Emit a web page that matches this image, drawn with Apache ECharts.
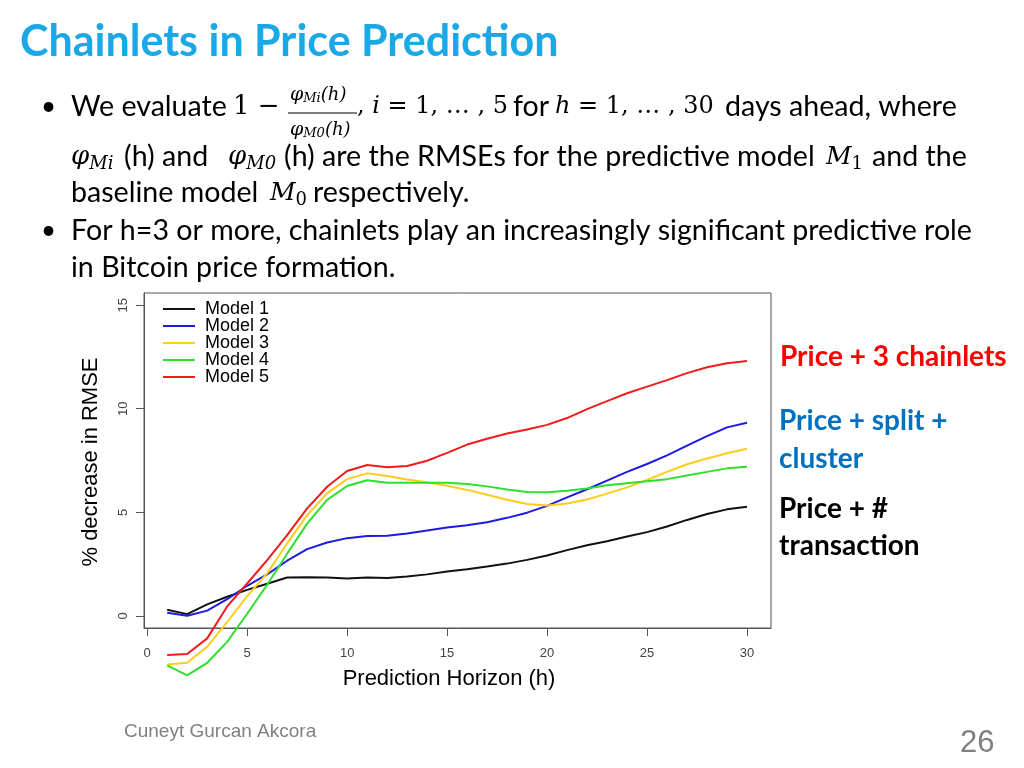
<!DOCTYPE html>
<html>
<head>
<meta charset="utf-8">
<script src="https://cdn.jsdelivr.net/npm/echarts@6/dist/echarts.min.js"></script>
<style>
html,body{margin:0;padding:0;background:#fff;}
#chart{width:1024px;height:768px;}
</style>
</head>
<body>
<div id="chart"></div>
<script>
// ---- data ----
const horizons = [1,2,3,4,5,6,7,8,9,10,11,12,13,14,15,16,17,18,19,20,21,22,23,24,25,26,27,28,29,30];
const seriesNames = ['Model 1','Model 2','Model 3','Model 4','Model 5'];
const model1 = [0.29,0.08,0.55,0.92,1.25,1.55,1.85,1.86,1.85,1.80,1.85,1.83,1.90,2.00,2.14,2.25,2.38,2.52,2.70,2.91,3.17,3.41,3.60,3.83,4.04,4.31,4.63,4.92,5.14,5.27];
const model2 = [0.15,0.00,0.25,0.80,1.45,2.00,2.66,3.22,3.54,3.75,3.85,3.87,3.97,4.12,4.26,4.37,4.52,4.73,4.98,5.31,5.72,6.11,6.53,6.95,7.33,7.75,8.22,8.68,9.10,9.32];
const model3 = [-2.35,-2.27,-1.50,-0.30,0.95,2.05,3.50,4.86,5.91,6.60,6.88,6.75,6.58,6.45,6.28,6.08,5.85,5.60,5.40,5.33,5.42,5.62,5.90,6.20,6.56,6.95,7.32,7.60,7.85,8.07];
const model4 = [-2.40,-2.88,-2.27,-1.26,0.10,1.50,3.00,4.45,5.60,6.27,6.55,6.43,6.43,6.43,6.43,6.36,6.25,6.10,5.98,5.97,6.04,6.15,6.30,6.40,6.50,6.60,6.78,6.95,7.12,7.20];
const model5 = [-1.90,-1.85,-1.09,0.45,1.56,2.69,3.90,5.19,6.23,6.99,7.28,7.17,7.23,7.49,7.87,8.27,8.55,8.80,9.00,9.22,9.55,9.98,10.37,10.75,11.07,11.38,11.72,12.00,12.20,12.30];
const xTicks = [0,5,10,15,20,25,30];
const yTicks = [0,5,10,15];

const colors = ['#111111','#1c1ce0','#ffcc1a','#2ee02e','#ee1c1c'];
const allData = [model1, model2, model3, model4, model5];

const sans = 'Lato';
const serif = 'DejaVu Serif';
const arial = 'Liberation Sans';
const T = (x, y, text, size, opts) => Object.assign({
  type: 'text', x: x, y: y, silent: true,
  style: Object.assign({text: text, fontSize: size, fontFamily: sans, fill: '#000', verticalAlign: 'middle', align: 'left'}, (opts && opts.style) || {})
}, (opts && opts.el) || {});

const fracRich = {p:{fontSize:19,fontStyle:'italic',fontFamily:serif}, s:{fontSize:13,fontStyle:'italic',fontFamily:serif,padding:[8,0,0,0]}, n:{fontSize:18,fontFamily:serif, fontStyle:'italic'}};
const mathRich = {a:{fontSize:24,fontFamily:serif}, i:{fontSize:24,fontFamily:serif,fontStyle:'italic'}};
const phiRich = {p:{fontSize:26,fontStyle:'italic',fontFamily:serif}, s:{fontSize:18,fontStyle:'italic',fontFamily:serif,padding:[14,0,0,0]}};
const mRich = {p:{fontSize:25,fontStyle:'italic',fontFamily:serif}, s:{fontSize:18,fontFamily:serif,padding:[14,0,0,0]}};
const BODY = 28.6;

const graphics = [
  T(20, 42, 'Chainlets in Price Prediction', 43, {style:{fill:'#1aa8e6', fontWeight:'bold'}}),
  // line 1
  T(41, 107, '•', 26),
  T(71, 107, 'We evaluate', BODY),
  T(233, 107, '{a|1 −}', 24, {style:{rich:{a:{fontSize:26,fontFamily:serif}}}}),
  T(290, 95, '{p|φ}{s|Mi}{n|(h)}', 18, {style:{rich: fracRich}}),
  {type:'line', silent:true, shape:{x1:288,y1:113,x2:357,y2:113}, style:{stroke:'#000', lineWidth:1}},
  T(290, 130, '{p|φ}{s|M0}{n|(h)}', 18, {style:{rich: fracRich}}),
  T(357, 107, '{a|, }{i|i}{a| = 1, … , 5}', 24, {style:{rich: mathRich}}),
  T(513, 107, 'for', BODY),
  T(555, 107, '{i|h}{a| = 1, … , 30}', 24, {style:{rich: mathRich}}),
  T(725, 107, 'days ahead, where', BODY),
  // line 2
  T(71, 157, '{p|φ}{s|Mi}', 24, {style:{rich: phiRich}}),
  T(124, 157, '(h) and', BODY),
  T(228, 157, '{p|φ}{s|M0}', 24, {style:{rich: phiRich}}),
  T(284, 157, '(h) are the RMSEs for the predictive model', BODY),
  T(826, 157, '{p|M}{s|1}', 24, {style:{rich: mRich}}),
  T(872, 157, 'and the', BODY),
  // line 3
  T(71, 193, 'baseline model', BODY),
  T(270, 193, '{p|M}{s|0}', 24, {style:{rich: mRich}}),
  T(313, 193, 'respectively.', BODY),
  // line 4-5
  T(41, 231, '•', 26),
  T(71, 231, 'For h=3 or more, chainlets play an increasingly significant predictive role', BODY),
  T(71, 268, 'in Bitcoin price formation.', BODY),
  // right annotations
  T(780, 357, 'Price + 3 chainlets', 28, {style:{fill:'#ff0000', fontWeight:'bold'}}),
  T(779, 421, 'Price + split +', 28, {style:{fill:'#0070c0', fontWeight:'bold'}}),
  T(779, 459, 'cluster', 28, {style:{fill:'#0070c0', fontWeight:'bold'}}),
  T(779, 509, 'Price + #', 28, {style:{fill:'#000', fontWeight:'bold'}}),
  T(779, 546, 'transaction', 28, {style:{fill:'#000', fontWeight:'bold'}}),
  // axis titles
  T(449, 679, 'Prediction Horizon (h)', 22, {style:{fontFamily: arial, align:'center'}}),
  T(91, 462, '% decrease in RMSE', 22, {style:{fontFamily: arial, align:'center'}, el:{rotation: Math.PI/2}}),
  // footer
  T(124, 732, 'Cuneyt Gurcan Akcora', 19, {style:{fontFamily: arial, fill:'#808080'}}),
  T(960, 743, '26', 31, {style:{fontFamily: arial, fill:'#808080'}})
];

const chart = echarts.init(document.getElementById('chart'), null, {renderer:'canvas'});
chart.setOption({
  animation: false,
  backgroundColor: '#fff',
  grid: {left:144, right:253, top:293, bottom:140, show:true, borderColor:'#555', borderWidth:1, backgroundColor:'#fff'},
  legend: {
    data: seriesNames.map(n => ({name:n, icon:'rect'})), orient:'vertical', left:158, top:295,
    itemWidth:32, itemHeight:2, itemGap:-1,
    textStyle:{fontSize:18, lineHeight:16, fontFamily: arial, color:'#000', padding:[0,0,0,5]}, selectedMode:false
  },
  xAxis: {
    type:'value', min:-0.16, max:31.2,
    axisLine:{show:true, onZero:false, lineStyle:{color:'#555', width:1}}, splitLine:{show:false},
    axisTick:{show:true, inside:false, length:8, lineStyle:{color:'#555'}, customValues: xTicks},
    axisLabel:{color:'#444', fontSize:13, fontFamily: arial, margin:19, customValues: xTicks}
  },
  yAxis: {
    type:'value', min:-0.59, max:15.59,
    axisLine:{show:true, onZero:false, lineStyle:{color:'#555', width:1}}, splitLine:{show:false},
    axisTick:{show:true, inside:false, length:8, lineStyle:{color:'#555'}, customValues: yTicks},
    axisLabel:{color:'#444', fontSize:13, fontFamily: arial, margin:14, rotate:90, customValues: yTicks}
  },
  series: allData.map((d, i) => ({
    name: seriesNames[i], type:'line', data: horizons.map((h, j) => [h, d[j]]),
    symbol:'none', clip:false, smooth:false,
    lineStyle:{color: colors[i], width:2}, itemStyle:{color: colors[i]}
  })),
  graphic: graphics
});
</script>
</body>
</html>
